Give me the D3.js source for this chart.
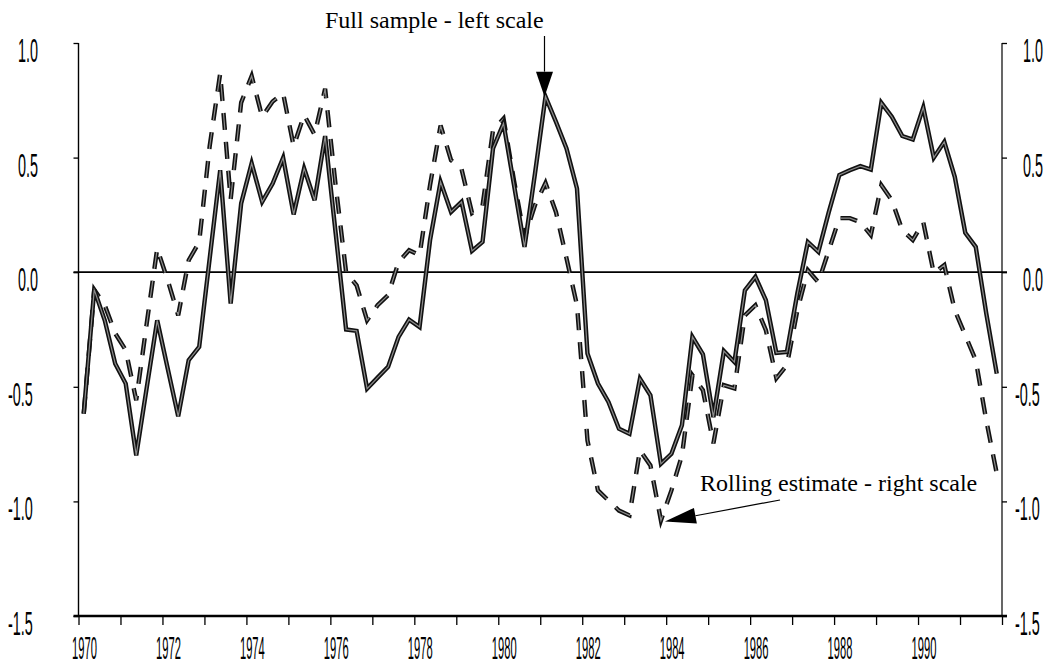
<!DOCTYPE html>
<html>
<head>
<meta charset="utf-8">
<script src="https://cdn.jsdelivr.net/npm/d3@7/dist/d3.min.js"></script>
<style>
  body { margin: 0; background: #fff; }
</style>
</head>
<body>
<svg id="chart" width="1049" height="666"></svg>
<script>
// quarterly observations 1970Q1 - 1991Q4, plotted at mid-quarter
const firstQuarter = 1970.125;

// full sample estimate (left scale)
const fullSample = [
  -0.617, -0.076, -0.21, -0.399, -0.486, -0.799, -0.504, -0.21,
  -0.42, -0.629, -0.384, -0.326, 0.06, 0.445, -0.137, 0.30,
  0.475, 0.307, 0.387, 0.499, 0.252, 0.453, 0.314, 0.594,
  0.172, -0.25, -0.256, -0.508, -0.46, -0.413, -0.282, -0.207,
  -0.239, 0.14, 0.394, 0.263, 0.307, 0.093, 0.132, 0.54,
  0.649, 0.38, 0.11, 0.431, 0.766, 0.656, 0.54, 0.365,
  -0.355, -0.486, -0.566, -0.683, -0.705, -0.464, -0.537, -0.836,
  -0.792, -0.668, -0.282, -0.358, -0.632, -0.344, -0.392, -0.079,
  -0.02, -0.122, -0.352, -0.348, -0.092, 0.132, 0.089, 0.263,
  0.424, 0.445, 0.463, 0.448, 0.739, 0.678, 0.594, 0.579,
  0.719, 0.5, 0.569, 0.416, 0.172, 0.11, -0.18, -0.442
];

// rolling estimate (right scale)
const rolling = [
  -0.617, -0.076, -0.144, -0.267, -0.34, -0.559, -0.224, 0.103,
  -0.035, -0.188, 0.052, 0.132, 0.55, 0.867, 0.318, 0.74,
  0.856, 0.678, 0.745, 0.78, 0.55, 0.686, 0.60, 0.80,
  0.38, 0.0, -0.057, -0.21, -0.144, -0.1, 0.044, 0.096,
  0.074, 0.38, 0.64, 0.489, 0.45, 0.258, 0.29, 0.62,
  0.67, 0.40, 0.15, 0.293, 0.389, 0.262, 0.061, -0.144,
  -0.734, -0.952, -0.996, -1.04, -1.061, -0.777, -0.843, -1.083,
  -0.952, -0.80, -0.45, -0.515, -0.747, -0.493, -0.507, -0.188,
  -0.144, -0.253, -0.463, -0.406, -0.166, 0.009, -0.044, 0.096,
  0.236, 0.236, 0.218, 0.162, 0.38, 0.314, 0.183, 0.14,
  0.218, -0.004, 0.031, -0.166, -0.275, -0.384, -0.646, -0.878
];

const yTicks = [1.0, 0.5, 0.0, -0.5, -1.0, -1.5];
const xTickYears = d3.range(1970, 1993);
const xLabelYears = [1970, 1972, 1974, 1976, 1978, 1980, 1982, 1984, 1986, 1988, 1990];

const fullLabel = "Full sample - left scale";
const rollingLabel = "Rolling estimate - right scale";

const svg = d3.select('#chart');

const x = d3.scaleLinear().domain([1970, 1992]).range([78.5, 1002]);
const y = d3.scaleLinear().domain([-1.5, 1.0]).range([616, 43]);

const t = i => firstQuarter + i * 0.25;

// axes
const axisStyle = g => {
  g.select('.domain').remove();
  g.selectAll('.tick line').attr('stroke', '#000').attr('stroke-width', 1.3);
};

svg.append('g')
  .attr('transform', 'translate(' + x.range()[0] + ',0)')
  .call(d3.axisLeft(y).tickValues(yTicks).tickSize(5).tickFormat(''))
  .call(axisStyle);

svg.append('g')
  .attr('transform', 'translate(' + x.range()[1] + ',0)')
  .call(d3.axisRight(y).tickValues(yTicks).tickSize(5).tickFormat(''))
  .call(axisStyle);

svg.append('g')
  .attr('transform', 'translate(0,' + y(-1.5) + ')')
  .call(d3.axisBottom(x).tickValues(xTickYears).tickSize(9).tickFormat(''))
  .call(axisStyle);

// axis lines
svg.append('line')
  .attr('x1', x.range()[0]).attr('x2', x.range()[0])
  .attr('y1', y(1.0)).attr('y2', y(-1.5))
  .attr('stroke', '#000').attr('stroke-width', 1.4);
svg.append('line')
  .attr('x1', x.range()[1]).attr('x2', x.range()[1])
  .attr('y1', y(1.0)).attr('y2', y(-1.5))
  .attr('stroke', '#000').attr('stroke-width', 1.2);
svg.append('line')
  .attr('x1', x.range()[0] - 5).attr('x2', x.range()[1] + 5)
  .attr('y1', y(-1.5)).attr('y2', y(-1.5))
  .attr('stroke', '#000').attr('stroke-width', 2.4);

// zero line
svg.append('line')
  .attr('x1', x.range()[0] - 5).attr('x2', x.range()[1] + 5)
  .attr('y1', y(0)).attr('y2', y(0))
  .attr('stroke', '#000').attr('stroke-width', 1.8);

// narrow tick labels
const fmt = d => d.toFixed(1);
function narrowText(px, py, txt, size, sx) {
  svg.append('g')
    .attr('transform', 'translate(' + px + ',' + py + ') scale(' + sx + ',1)')
    .append('text')
    .attr('font-family', 'Liberation Sans, Arial, sans-serif')
    .attr('font-size', size)
    .attr('fill', '#000')
    .text(txt);
}

yTicks.forEach(d => {
  narrowText(d < 0 ? 8 : 18, y(d) + 19, fmt(d), 33.5, 0.43);
  narrowText(d < 0 ? 1015 : 1023, y(d) + 19, fmt(d), 33.5, 0.43);
});

xLabelYears.forEach(d => {
  narrowText(x(d) - 6.5, y(-1.5) + 43, String(d), 32, 0.35);
});

// series: thick double line look
const line = d3.line()
  .x((d, i) => x(t(i)))
  .y(d => y(d));

function drawSeries(values, dash) {
  svg.append('path')
    .datum(values)
    .attr('d', line)
    .attr('fill', 'none')
    .attr('stroke', '#111')
    .attr('stroke-width', 4.4)
    .attr('stroke-linejoin', 'miter')
    .attr('stroke-dasharray', dash);
  svg.append('path')
    .datum(values)
    .attr('d', line)
    .attr('fill', 'none')
    .attr('stroke', '#8c8c8c')
    .attr('stroke-width', 1.2)
    .attr('stroke-linejoin', 'miter')
    .attr('stroke-dasharray', dash);
}

drawSeries(rolling, '17,12');
drawSeries(fullSample, null);

// annotations
const serif = 'Liberation Serif, Times New Roman, serif';

svg.append('text')
  .attr('x', 325).attr('y', 28)
  .attr('font-family', serif).attr('font-size', 24)
  .text(fullLabel);

svg.append('text')
  .attr('x', 700).attr('y', 491)
  .attr('font-family', serif).attr('font-size', 24)
  .text(rollingLabel);

function arrow(x0, y0, tx, ty, headLen, headHalf) {
  const dx = tx - x0, dy = ty - y0;
  const len = Math.sqrt(dx * dx + dy * dy);
  const ux = dx / len, uy = dy / len;
  const bx = tx - ux * headLen, by = ty - uy * headLen;
  svg.append('line')
    .attr('x1', x0).attr('y1', y0).attr('x2', bx).attr('y2', by)
    .attr('stroke', '#000').attr('stroke-width', 1.2);
  svg.append('path')
    .attr('d', 'M' + tx + ',' + ty +
      'L' + (bx - uy * headHalf) + ',' + (by + ux * headHalf) +
      'L' + (bx + uy * headHalf) + ',' + (by - ux * headHalf) + 'Z')
    .attr('fill', '#000');
}

// full sample peak (1981Q1)
const peakI = 44;
arrow(x(t(peakI)) - 1, 36, x(t(peakI)) - 1, y(fullSample[peakI]), 25, 8.5);

// rolling trough (1983Q4)
const troughI = 55;
arrow(780, 500, x(t(troughI)) + 4, y(rolling[troughI]) + 1, 31, 8);
</script>
</body>
</html>
